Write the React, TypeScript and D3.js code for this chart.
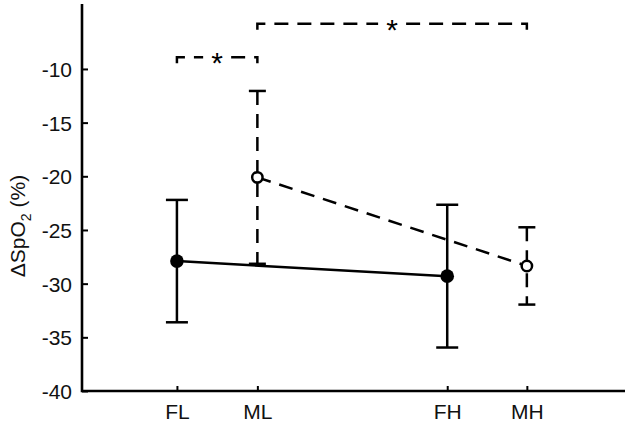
import { useEffect, useRef } from 'react';
import * as d3 from 'd3';

const categories = ['FL', 'ML', 'FH', 'MH'];
const catPos = [1, 2, 4.36, 5.35];

// fixed (solid, filled markers): FL, FH
const fixedCats = ['FL', 'FH'];
const fixedMean = [-27.9, -29.3];
const fixedErr = [5.7, 6.65];

// mobile (dashed, open markers): ML, MH
const mobileCats = ['ML', 'MH'];
const mobileMean = [-20.1, -28.35];
const mobileErr = [8.05, 3.6];

const yTicks = [-40, -35, -30, -25, -20, -15, -10];

// significance brackets
const sigFrom = ['FL', 'ML'];
const sigTo = ['ML', 'MH'];
const sigLevel = [-8.9, -5.8];

const App = () => {
  const svgRef = useRef<SVGSVGElement>(null);

  useEffect(() => {
    const width = 630;
    const height = 426;
    const svg = d3.select(svgRef.current)
      .attr('width', width)
      .attr('height', height);
    svg.selectAll('*').remove();

    const font = 'Liberation Sans, Arial, Helvetica, sans-serif';
    const fs = '21px';
    const sw = 2.5;

    const x = d3.scaleLinear().domain([-0.18, 6.57]).range([82, 625]);
    const y = d3.scaleLinear().domain([-40, -3.95]).range([391, 4]);
    const xOf = (c: string) => x(catPos[categories.indexOf(c)]);

    // axes
    const yAxis = svg.append('g')
      .attr('transform', 'translate(82,0)')
      .call(d3.axisRight(y).tickValues(yTicks).tickSize(6).tickFormat(d3.format('d')));
    yAxis.select('.domain').remove();
    yAxis.selectAll('.tick line').attr('stroke-width', 2);
    yAxis.selectAll('.tick text')
      .attr('x', -10)
      .attr('dy', '0.36em')
      .attr('text-anchor', 'end')
      .style('font-size', fs)
      .style('font-family', font)
      .attr('fill', '#111')
      .text(d => `-${Math.abs(d as number)}`);

    const xAxis = svg.append('g')
      .attr('transform', 'translate(0,391)')
      .call(d3.axisTop(x).tickValues(catPos).tickSize(5).tickFormat((_, i) => categories[i]));
    xAxis.select('.domain').remove();
    xAxis.selectAll('.tick line').attr('stroke-width', 2);
    xAxis.selectAll('.tick text')
      .attr('y', 28)
      .attr('dy', 0)
      .style('font-size', fs)
      .style('font-family', font)
      .attr('fill', '#111');

    svg.append('path')
      .attr('d', `M82,${y.range()[1]}V391H625`)
      .attr('fill', 'none')
      .attr('stroke', '#000')
      .attr('stroke-width', 2.6);

    // y label
    const lab = svg.append('text')
      .attr('transform', 'translate(25,226) rotate(-90)')
      .attr('text-anchor', 'middle')
      .style('font-family', font)
      .style('font-size', fs)
      .attr('fill', '#111');
    lab.append('tspan').text('\u0394SpO');
    lab.append('tspan').style('font-size', '14px').attr('dy', 6).text('2');
    lab.append('tspan').attr('dy', -6).text(' (%)');

    const drawSeries = (cats: string[], mean: number[], err: number[], dashed: boolean) => {
      const g = svg.append('g');
      const dash = dashed ? '14 9' : null;
      const capW = dashed ? 8.5 : 11;
      const pts = cats.map((c, i) => ({ cx: xOf(c), m: mean[i], e: err[i] }));
      // error bars
      pts.forEach(p => {
        g.append('line')
          .attr('x1', p.cx).attr('x2', p.cx)
          .attr('y1', y(p.m + p.e)).attr('y2', y(p.m - p.e))
          .attr('stroke', '#000').attr('stroke-width', sw)
          .attr('stroke-dasharray', dash);
        [p.m + p.e, p.m - p.e].forEach(v => {
          g.append('line')
            .attr('x1', p.cx - capW).attr('x2', p.cx + capW)
            .attr('y1', y(v)).attr('y2', y(v))
            .attr('stroke', '#000').attr('stroke-width', sw);
        });
      });
      // connecting line
      g.append('path')
        .datum(pts)
        .attr('d', d3.line<any>().x(d => d.cx).y(d => y(d.m)))
        .attr('fill', 'none')
        .attr('stroke', '#000')
        .attr('stroke-width', sw)
        .attr('stroke-dasharray', dash);
      g.selectAll('circle')
        .data(pts)
        .enter().append('circle')
        .attr('cx', d => d.cx)
        .attr('cy', d => y(d.m))
        .attr('r', dashed ? 5.2 : 6.8)
        .attr('fill', dashed ? '#fff' : '#000')
        .attr('stroke', '#000')
        .attr('stroke-width', dashed ? sw : 0);
    };

    drawSeries(fixedCats, fixedMean, fixedErr, false);
    drawSeries(mobileCats, mobileMean, mobileErr, true);

    // significance brackets
    sigFrom.forEach((f, i) => {
      const x1 = xOf(f);
      const x2 = xOf(sigTo[i]);
      const yy = y(sigLevel[i]);
      const mid = (x1 + x2) / 2;
      const gap = 14;
      svg.append('path')
        .attr('d', `M${x1},${yy + 6}V${yy}H${mid - gap}M${mid + gap},${yy}H${x2}V${yy + 6}`)
        .attr('fill', 'none')
        .attr('stroke', '#000')
        .attr('stroke-width', sw)
        .attr('stroke-dasharray', '14 9');
      svg.append('text')
        .attr('x', mid)
        .attr('y', yy + 16)
        .attr('text-anchor', 'middle')
        .style('font-family', font)
        .style('font-size', '30px')
        .attr('fill', '#000')
        .text('*');
    });
  }, []);

  return (
    <div style={{ position: 'absolute', left: 0, top: 0 }}>
      <svg ref={svgRef} style={{ display: 'block' }} />
    </div>
  );
};

export default App;
